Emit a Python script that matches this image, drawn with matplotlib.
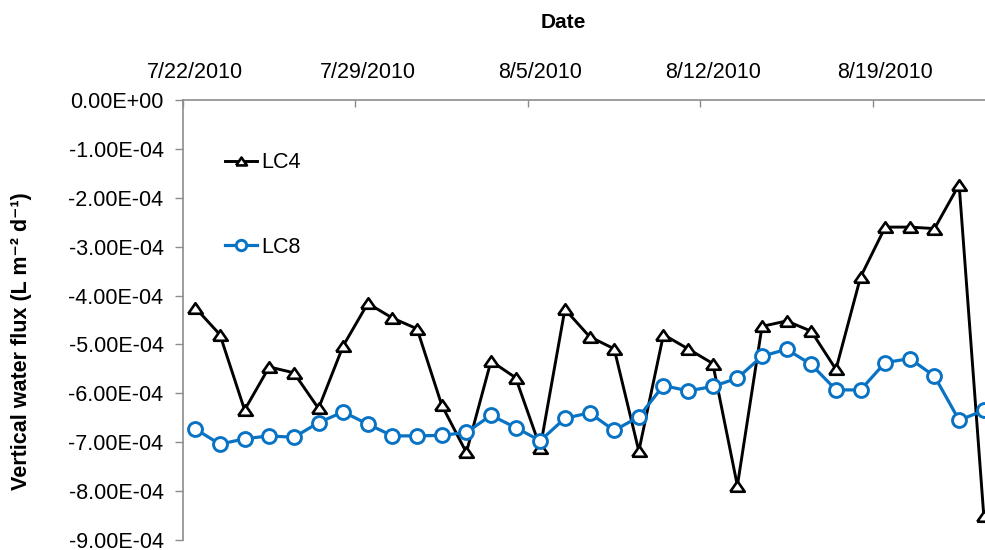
import datetime as dt
import numpy as np
import matplotlib
matplotlib.use("Agg")
import matplotlib.pyplot as plt
import matplotlib.dates as mdates
from matplotlib.ticker import FixedLocator, FixedFormatter

plt.rcParams['font.family'] = ['Liberation Sans', 'DejaVu Sans']

# daily fluxes, 7/22/2010 - 8/23/2010 (L m-2 d-1)
start = dt.date(2010, 7, 22)
days = [start + dt.timedelta(days=i) for i in range(33)]

lc4 = [-4.25, -4.80, -6.34, -5.46, -5.58, -6.31, -5.03, -4.16, -4.46, -4.68,
       -6.24, -7.21, -5.34, -5.68, -7.11, -4.28, -4.84, -5.09, -7.18, -4.80,
       -5.09, -5.39, -7.89, -4.63, -4.52, -4.73, -5.51, -3.62, -2.60, -2.60,
       -2.63, -1.73, -8.50]
lc8 = [-6.73, -7.04, -6.93, -6.87, -6.90, -6.60, -6.38, -6.63, -6.87, -6.87,
       -6.86, -6.80, -6.45, -6.70, -6.97, -6.51, -6.40, -6.76, -6.48, -5.84,
       -5.95, -5.86, -5.69, -5.24, -5.10, -5.41, -5.93, -5.93, -5.37, -5.29,
       -5.65, -6.55, -6.35]
lc4 = np.array(lc4) * 1e-4
lc8 = np.array(lc8) * 1e-4

label_dates = [dt.date(2010, 7, 22), dt.date(2010, 7, 29), dt.date(2010, 8, 5),
               dt.date(2010, 8, 12), dt.date(2010, 8, 19)]
y_ticks = np.arange(-9, 1) * 1e-4
y_labels = ['-9.00E-04', '-8.00E-04', '-7.00E-04', '-6.00E-04', '-5.00E-04',
            '-4.00E-04', '-3.00E-04', '-2.00E-04', '-1.00E-04', '0.00E+00']

blue = '#0873C4'
grey = '#8C8C8C'

# wide, flat triangle
tri = [(-1.0, -0.72), (1.0, -0.72), (0.0, 0.72), (-1.0, -0.72)]

fig = plt.figure(figsize=(9.85, 5.5), dpi=100)
ax = fig.add_axes([183 / 985, 10 / 550, 802 / 985, 440 / 550])

x = mdates.date2num(days)
ax.plot(x, lc4, color='black', lw=2.1, marker=tri, ms=10.5, mfc='white',
        mec='black', mew=1.9, label='LC4', clip_on=False, zorder=3)
ax.plot(x, lc8, color=blue, lw=2.3, marker='o', ms=10, mfc='white',
        mec=blue, mew=2.1, label='LC8', clip_on=False, zorder=4)

x0 = mdates.date2num(start)
ax.set_xlim(x0 - 0.5, x0 + 32.05)
ax.set_ylim(-9e-4, 0)

# date labels sit on the days, tick marks between days
ax.xaxis.tick_top()
label_x = mdates.date2num(label_dates)
ax.xaxis.set_major_locator(FixedLocator(label_x))
ax.xaxis.set_major_formatter(FixedFormatter([f"{d.month}/{d.day}/{d.year}" for d in label_dates]))
ax.xaxis.set_minor_locator(FixedLocator(label_x - 0.5))
ax.tick_params(axis='x', which='major', length=0, pad=12, labelsize=15.5)
ax.tick_params(axis='x', which='minor', direction='in', length=5, width=1, color=grey, top=True)

ax.yaxis.set_major_locator(FixedLocator(y_ticks))
ax.yaxis.set_major_formatter(FixedFormatter(y_labels))
ax.tick_params(axis='y', direction='out', length=6, width=1, color=grey, labelsize=15.5, pad=8)

for side in ['right', 'bottom']:
    ax.spines[side].set_visible(False)
for side in ['left', 'top']:
    ax.spines[side].set_color(grey)
    ax.spines[side].set_linewidth(1.2)

fig.text(563 / 985, 1 - 22 / 550, 'Date', ha='center', va='center',
         fontsize=15, fontweight='bold')
fig.text(22 / 985, 1 - 341 / 550, 'Vertical water flux (L m⁻² d⁻¹)',
         ha='center', va='center', rotation=90, fontsize=15.5, fontweight='bold')

ax.legend(loc='upper left', bbox_to_anchor=(0.028, 0.925), frameon=False,
          fontsize=15.5, labelspacing=2.95, handlelength=1.5, handletextpad=0.2,
          markerscale=0.75)

fig.savefig('out.png', dpi=100)
